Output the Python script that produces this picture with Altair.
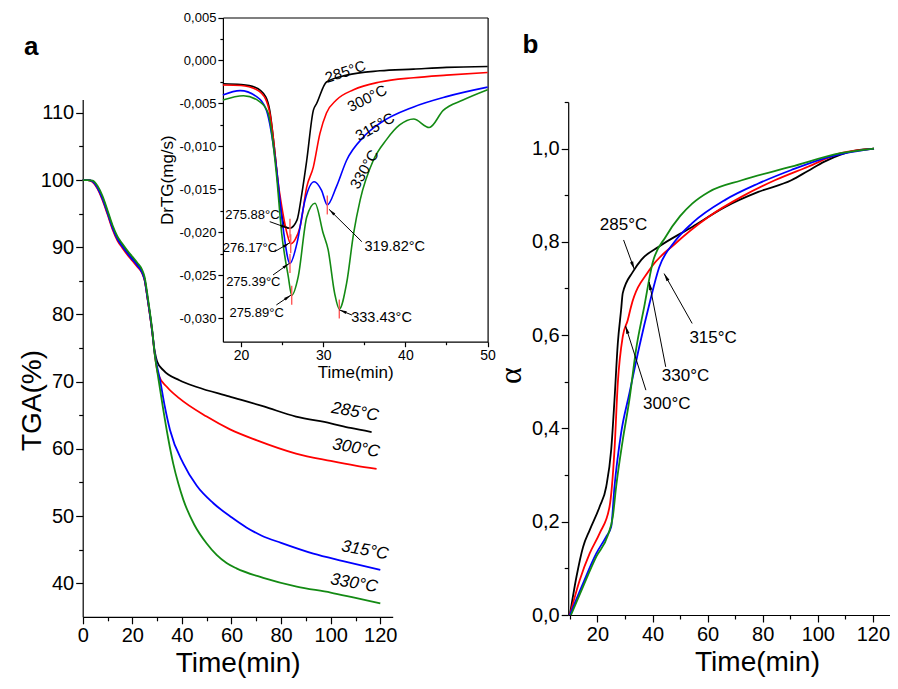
import math
import altair as alt
import pandas as pd

SERIES = ["285°C", "300°C", "315°C", "330°C"]
COLORS = ["#000000", "#ff0000", "#0000ff", "#138a13"]

# ---------------- panel a : TGA (%) vs time (min) ----------------
tga_t_285 = [0, 2, 4, 6, 8, 10, 12, 14, 16, 18, 20, 22, 24, 25, 26, 27, 28, 29, 30, 32.5, 39, 46, 59, 73, 86, 100, 108, 116.5]
tga_v_285 = [100, 100, 99.8, 98.9, 97.3, 95.2, 93.0, 91.3, 90.2, 89.2, 88.3, 87.4, 86.3, 85.2, 82.8, 80.3, 77.5, 74.6, 73.0, 71.7, 70.2, 69.2, 67.8, 66.3, 64.8, 63.8, 63.1, 62.5]
tga_t_300 = [0, 2, 4, 6, 8, 10, 12, 14, 16, 18, 20, 22, 24, 25, 26, 27, 28, 29, 30.5, 34, 39, 50, 59.4, 70, 86, 100, 110, 118.5]
tga_v_300 = [100, 100, 99.7, 98.7, 97.0, 94.9, 92.7, 91.0, 89.9, 88.9, 88.0, 87.1, 86.1, 85.0, 82.7, 80.2, 77.5, 74.2, 71.0, 69.2, 67.5, 64.8, 62.9, 61.3, 59.3, 58.2, 57.5, 57.0]
tga_t_315 = [0, 2, 4, 6, 8, 10, 12, 14, 16, 18, 20, 22, 24, 25, 26, 27, 28, 29, 31.2, 33, 35.2, 40.6, 46, 52.7, 60, 66, 72, 80, 93, 105, 120]
tga_v_315 = [100, 100, 99.8, 98.8, 97.2, 95.1, 92.9, 91.2, 90.1, 89.1, 88.2, 87.3, 86.2, 85.1, 82.8, 80.3, 77.6, 74.3, 70.2, 66.5, 62.8, 57.8, 54.5, 51.9, 49.8, 48.3, 47.1, 46.0, 44.4, 43.3, 42.0]
tga_t_330 = [0, 2, 4, 6, 8, 10, 12, 14, 16, 18, 20, 22, 24, 25, 26, 27, 28, 29, 30.5, 32.5, 34.5, 36.5, 38.5, 40.6, 45, 50, 54, 58, 62, 72.8, 86.3, 100, 110, 120]
tga_v_330 = [100, 100, 99.9, 99.1, 97.6, 95.5, 93.3, 91.6, 90.5, 89.5, 88.6, 87.7, 86.6, 85.5, 83.2, 80.6, 77.8, 74.2, 70.5, 65.8, 61.5, 57.8, 54.9, 52.4, 48.7, 45.9, 44.2, 43.0, 42.2, 40.8, 39.5, 38.6, 37.8, 37.0]

tga_lab_t = [109.8, 110.2, 113.8, 109.4]
tga_lab_v = [65.5, 60.1, 44.9, 40.0]

# ---------------- inset : DrTG (mg/s) vs time (min) ----------------
dtg_t_285 = [17.8, 20, 21.7, 23.0, 23.5, 24.1, 24.7, 25.35, 25.96, 26.8, 27.4, 28.0, 28.8, 29.2, 30.4, 32.85, 36.9, 41, 45, 50]
dtg_v_285 = [-0.0027, -0.0028, -0.0031, -0.0042, -0.0058, -0.0105, -0.0162, -0.0193, -0.0195, -0.0186, -0.0155, -0.0116, -0.0058, -0.0050, -0.0025, -0.0017, -0.0012, -0.0010, -0.0008, -0.0007]
dtg_t_300 = [17.8, 20, 21.9, 23.0, 23.5, 24.7, 25.6, 26.05, 26.6, 27.2, 28, 28.8, 29.6, 30.4, 31.6, 33.7, 36.9, 41, 45, 50]
dtg_v_300 = [-0.00285, -0.0029, -0.0034, -0.0045, -0.0061, -0.0154, -0.0201, -0.0213, -0.0208, -0.0193, -0.0147, -0.0124, -0.0085, -0.0061, -0.0046, -0.0034, -0.0025, -0.0020, -0.0017, -0.0014]
dtg_t_315 = [17.8, 19.9, 21.9, 23.1, 24.3, 25.1, 25.96, 26.8, 27.8, 28.9, 29.8, 30.5, 31.6, 32.85, 34.9, 36.9, 41, 45, 50]
dtg_v_315 = [-0.0040, -0.0035, -0.0042, -0.0058, -0.0124, -0.0193, -0.0236, -0.0213, -0.0162, -0.0141, -0.0151, -0.0168, -0.0147, -0.0116, -0.0089, -0.0073, -0.0054, -0.0042, -0.0031]
dtg_t_330 = [17.8, 20.3, 22.3, 23.3, 24.3, 24.95, 25.75, 26.17, 26.97, 28, 29, 30, 30.6, 31.4, 31.96, 32.85, 33.7, 34.5, 36.1, 37.7, 39.3, 41, 42.9, 44.6, 47, 50]
dtg_v_330 = [-0.0046, -0.0041, -0.0048, -0.0061, -0.0131, -0.0201, -0.0251, -0.0273, -0.0251, -0.0182, -0.0166, -0.0201, -0.0220, -0.0271, -0.0289, -0.0259, -0.0201, -0.0162, -0.0116, -0.0092, -0.0075, -0.0068, -0.0078, -0.0058, -0.0046, -0.0034]

dtg_lab_t = [32.7, 35.35, 36.3, 35.0]
dtg_lab_v = [-0.0013, -0.0044, -0.0077, -0.01265]
dtg_lab_ang = [342, 333, 331, 300]

peak_t = [25.96, 26.05, 25.96, 26.17, 30.5, 31.96]
peak_v = [-0.0195, -0.0213, -0.0236, -0.0273, -0.0168, -0.0289]
peak_half = 0.0011

peak_labels = ["275.88°C", "276.17°C", "275.39°C", "275.89°C", "319.82°C", "333.43°C"]
peak_lab_t = [21.4, 21.1, 21.5, 21.9, 38.7, 37.1]
peak_lab_v = [-0.01797, -0.02184, -0.02572, -0.0294, -0.02165, -0.02998]
peak_lab_size = [13, 13, 13, 13, 14.5, 14.5]
peak_arr_t1 = [23.5, 24.1, 23.9, 24.3, 34.7, 33.5]
peak_arr_v1 = [-0.01874, -0.02223, -0.02494, -0.02843, -0.02107, -0.0296]
peak_arr_t2 = [25.75, 25.96, 25.9, 26.1, 30.7, 31.96]
peak_arr_v2 = [-0.01951, -0.02118, -0.02358, -0.02727, -0.0173, -0.0290]

# ---------------- panel b : alpha vs time (min) ----------------
al_t_285 = [10, 12.4, 14.8, 17.2, 20.8, 23.2, 25, 26.2, 27.4, 28.6, 29.2, 32.8, 36, 42.4, 54.4, 66.4, 78.4, 90.4, 96.4, 102.4, 108.3, 114, 120.4]
al_a_285 = [0, 0.082, 0.146, 0.182, 0.232, 0.275, 0.354, 0.461, 0.582, 0.654, 0.69, 0.735, 0.762, 0.79, 0.832, 0.875, 0.907, 0.932, 0.952, 0.972, 0.987, 0.996, 1.0]
al_t_300 = [10, 13.6, 17.2, 20.8, 24.4, 26.2, 27.4, 29.2, 31, 32.2, 38.8, 48.4, 60.4, 72.4, 84.4, 96.4, 108.3, 120.4]
al_a_300 = [0, 0.075, 0.132, 0.175, 0.232, 0.354, 0.497, 0.597, 0.632, 0.661, 0.739, 0.797, 0.854, 0.897, 0.932, 0.961, 0.99, 1.0]
al_t_315 = [10, 14.8, 19.6, 23.2, 25, 26.2, 28.6, 31.6, 35.2, 38.8, 42.4, 48, 54.4, 66.4, 78.4, 90.4, 102.4, 110, 120.4]
al_a_315 = [0, 0.068, 0.132, 0.168, 0.189, 0.275, 0.39, 0.475, 0.575, 0.665, 0.745, 0.80, 0.84, 0.89, 0.925, 0.954, 0.979, 0.99, 1.0]
al_t_330 = [10.4, 14.8, 19.6, 23.8, 25.6, 26.8, 29.2, 31.6, 34, 37, 40, 44.8, 50, 54.4, 60.4, 72.4, 90.4, 108.3, 120.4]
al_a_330 = [0, 0.061, 0.125, 0.171, 0.211, 0.275, 0.375, 0.461, 0.568, 0.661, 0.754, 0.811, 0.855, 0.882, 0.907, 0.932, 0.961, 0.99, 1.0]

al_lab = ["285°C", "315°C", "330°C", "300°C"]
al_lab_t = [29.5, 62.0, 52.0, 45.2]
al_lab_a = [0.836, 0.593, 0.512, 0.452]
al_arr_t1 = [29.5, 54.4, 44.8, 37.6]
al_arr_a1 = [0.804, 0.625, 0.532, 0.482]
al_arr_t2 = [33.4, 44.2, 38.8, 30.2]
al_arr_a2 = [0.741, 0.732, 0.714, 0.62]

# tick values
L_XTICKS = list(range(0, 121, 10))
L_YTICKS = list(range(40, 111, 5))
I_XTICKS = list(range(20, 51, 5))
I_YTICKS = [round(-0.030 + 0.0025 * i, 4) for i in range(15)]
R_XTICKS = list(range(10, 121, 10))
R_YTICKS = [round(0.1 * i, 1) for i in range(12)]

# ---------------- layout (view pixels) ----------------
W, H = 882, 673
FONT = "Liberation Sans"
L_XD, L_XR = [0, 125], [74.7, 384.7]
L_YD, L_YR = [35, 112], [608.8, 91.4]
I_XD, I_XR = [17.8, 50], [214.9, 479.6]
I_YD, I_YR = [-0.0327, 0.005], [333.7, 9.5]
R_XD, R_XR = [9.4, 126.2], [560.2, 882]
R_YD, R_YR = [0, 1.1], [607, 93.9]


def long_df(ts, vs):
    rows = []
    for s, tt, vv in zip(SERIES, ts, vs):
        for a, b in zip(tt, vv):
            rows.append({"series": s, "t": a, "v": b})
    return pd.DataFrame(rows)


def X(field, dom, rng, axis=None):
    return alt.X(field, type="quantitative", scale=alt.Scale(domain=dom, range=rng, nice=False, zero=False), axis=axis)


def Y(field, dom, rng, axis=None):
    return alt.Y(field, type="quantitative", scale=alt.Scale(domain=dom, range=rng, nice=False, zero=False), axis=axis)


def lin(v, d, r):
    return r[0] + (v - d[0]) / (d[1] - d[0]) * (r[1] - r[0])


def inv(p, d, r):
    return d[0] + (p - r[0]) / (r[1] - r[0]) * (d[1] - d[0])


def arrows(t1s, v1s, t2s, v2s, xd, xr, yd, yr, back=4.0):
    rows = []
    for t1, v1, t2, v2 in zip(t1s, v1s, t2s, v2s):
        x1, y1 = lin(t1, xd, xr), lin(v1, yd, yr)
        x2, y2 = lin(t2, xd, xr), lin(v2, yd, yr)
        dx, dy = x2 - x1, y2 - y1
        L = math.hypot(dx, dy)
        ang = math.degrees(math.atan2(dx, -dy)) % 360
        hx, hy = x2 - dx / L * back, y2 - dy / L * back
        rows.append({"t1": t1, "v1": v1, "t2": t2, "v2": v2,
                     "ht": inv(hx, xd, xr), "hv": inv(hy, yd, yr), "ang": ang})
    return pd.DataFrame(rows)


color = alt.Color("series:N", scale=alt.Scale(domain=SERIES, range=COLORS), legend=None)
HEAD = "M0,-1L0.42,1L-0.42,1Z"


def axis(orient, offset, values, test, labexpr, title, lsize, tsize, major, minor, **kw):
    return alt.Axis(orient=orient, offset=offset, values=values, labelExpr=labexpr,
                    tickSize={"condition": {"test": test, "value": major}, "value": minor},
                    title=title, labelFontSize=lsize, titleFontSize=tsize, grid=False,
                    labelFlush=False, labelOverlap=False, **kw)


# ---------- panel a ----------
tga = long_df([tga_t_285, tga_t_300, tga_t_315, tga_t_330], [tga_v_285, tga_v_300, tga_v_315, tga_v_330])
ax_lx = axis("bottom", L_YR[0] - H, L_XTICKS, "datum.value % 20 === 0", "datum.value % 20 === 0 ? datum.label : ''",
             "Time(min)", 20, 28, 7, 4)
ax_ly = axis("left", -L_XR[0], L_YTICKS, "datum.value % 10 === 0", "datum.value % 10 === 0 ? datum.label : ''",
             "TGA(%)", 20, 28, 7, 4, titleY=392, titleX=-36)
l_lines = alt.Chart(tga).mark_line(strokeWidth=1.8, interpolate="monotone").encode(
    x=X("t", L_XD, L_XR, ax_lx), y=Y("v", L_YD, L_YR, ax_ly), color=color, detail="series:N")
l_lab = alt.Chart(pd.DataFrame({"t": tga_lab_t, "v": tga_lab_v, "label": SERIES})).mark_text(
    font=FONT, fontSize=17, fontStyle="italic", angle=10, color="black").encode(
    x=X("t", L_XD, L_XR), y=Y("v", L_YD, L_YR), text="label:N")
l_letter = alt.Chart(pd.DataFrame({"t": [-20.8], "v": [119.8], "label": ["a"]})).mark_text(
    font=FONT, fontSize=26, fontWeight="bold", color="black").encode(
    x=X("t", L_XD, L_XR), y=Y("v", L_YD, L_YR), text="label:N")

# ---------- inset ----------
dtg = long_df([dtg_t_285, dtg_t_300, dtg_t_315, dtg_t_330], [dtg_v_285, dtg_v_300, dtg_v_315, dtg_v_330])
ax_ix = axis("bottom", I_YR[0] - H, I_XTICKS, "datum.value % 10 === 0", "datum.value % 10 === 0 ? datum.label : ''",
             "Time(min)", 14, 17, 5, 3, titlePadding=2)
ax_iy = axis("left", -I_XR[0], I_YTICKS, "round(datum.value*10000) % 50 === 0",
             "round(datum.value*10000) % 50 === 0 ? replace(replace(format(datum.value, '.3f'), '.', ','), '\u2212', '-') : ''",
             "DrTG(mg/s)", 13, 17, 5, 3, titlePadding=3)
i_lines = alt.Chart(dtg).mark_line(strokeWidth=1.6, interpolate="monotone").encode(
    x=X("t", I_XD, I_XR, ax_ix), y=Y("v", I_YD, I_YR, ax_iy), color=color, detail="series:N")
pk = pd.DataFrame({"t": peak_t, "lo": [v - peak_half for v in peak_v], "hi": [v + peak_half for v in peak_v]})
frame_x = alt.Axis(orient="top", offset=-I_YR[1], labels=False, ticks=False, title=None, grid=False)
frame_y = alt.Axis(orient="right", offset=I_XR[1] - W, labels=False, ticks=False, title=None, grid=False)
i_peaks = alt.Chart(pk).mark_rule(color="#ff5a5a", strokeWidth=1.4).encode(
    x=X("t", I_XD, I_XR, frame_x), y=Y("lo", I_YD, I_YR, frame_y), y2="hi")
i_lab = alt.Chart(pd.DataFrame({"t": dtg_lab_t, "v": dtg_lab_v, "label": SERIES, "ang": dtg_lab_ang})).mark_text(
    font=FONT, fontSize=15, color="black").encode(
    x=X("t", I_XD, I_XR), y=Y("v", I_YD, I_YR), text="label:N", angle=alt.Angle("ang:Q", scale=None))
i_plab = alt.Chart(pd.DataFrame({"t": peak_lab_t, "v": peak_lab_v, "label": peak_labels, "fs": peak_lab_size})).mark_text(
    font=FONT, color="black").encode(
    x=X("t", I_XD, I_XR), y=Y("v", I_YD, I_YR), text="label:N", size=alt.Size("fs:Q", scale=None))
i_arr_df = arrows(peak_arr_t1, peak_arr_v1, peak_arr_t2, peak_arr_v2, I_XD, I_XR, I_YD, I_YR)
i_arr = alt.Chart(i_arr_df).mark_rule(color="black", strokeWidth=1).encode(
    x=X("t1", I_XD, I_XR), y=Y("v1", I_YD, I_YR), x2="t2", y2="v2")
i_head = alt.Chart(i_arr_df).mark_point(shape=HEAD, filled=True, size=49, color="black", opacity=1).encode(
    x=X("ht", I_XD, I_XR), y=Y("hv", I_YD, I_YR), angle=alt.Angle("ang:Q", scale=None))

# ---------- panel b ----------
al = long_df([al_t_285, al_t_300, al_t_315, al_t_330], [al_a_285, al_a_300, al_a_315, al_a_330])
ax_rx = axis("bottom", R_YR[0] - H, R_XTICKS, "datum.value % 20 === 0", "datum.value % 20 === 0 ? datum.label : ''",
             "Time(min)", 20, 28, 7, 4, titleX=749)
ax_ry = axis("left", -R_XR[0], R_YTICKS, "round(datum.value*10) % 2 === 0",
             "round(datum.value*10) % 2 === 0 ? replace(format(datum.value, '.1f'), '.', ',') : ''",
             "\u03b1", 20, 32, 7, 4, titleFont="Liberation Serif", titleY=367)
r_lines = alt.Chart(al).mark_line(strokeWidth=1.8, interpolate="monotone").encode(
    x=X("t", R_XD, R_XR, ax_rx), y=Y("v", R_YD, R_YR, ax_ry), color=color, detail="series:N")
r_lab = alt.Chart(pd.DataFrame({"t": al_lab_t, "v": al_lab_a, "label": al_lab})).mark_text(
    font=FONT, fontSize=17, color="black").encode(
    x=X("t", R_XD, R_XR), y=Y("v", R_YD, R_YR), text="label:N")
r_arr_df = arrows(al_arr_t1, al_arr_a1, al_arr_t2, al_arr_a2, R_XD, R_XR, R_YD, R_YR)
r_arr = alt.Chart(r_arr_df).mark_rule(color="black", strokeWidth=1).encode(
    x=X("t1", R_XD, R_XR), y=Y("v1", R_YD, R_YR), x2="t2", y2="v2")
r_head = alt.Chart(r_arr_df).mark_point(shape=HEAD, filled=True, size=64, color="black", opacity=1).encode(
    x=X("ht", R_XD, R_XR), y=Y("hv", R_YD, R_YR), angle=alt.Angle("ang:Q", scale=None))
r_letter = alt.Chart(pd.DataFrame({"t": [-4.35], "v": [1.222], "label": ["b"]})).mark_text(
    font=FONT, fontSize=26, fontWeight="bold", color="black").encode(
    x=X("t", R_XD, R_XR), y=Y("v", R_YD, R_YR), text="label:N")

chart = alt.layer(
    l_lines, l_lab, l_letter,
    i_lines, i_peaks, i_lab, i_plab, i_arr, i_head,
    r_lines, r_lab, r_arr, r_head, r_letter,
).resolve_scale(x="independent", y="independent").properties(
    width=W, height=H, autosize=alt.AutoSizeParams(type="none"), padding=0,
).configure_view(stroke=None).configure_axis(
    domainColor="black", tickColor="black", labelColor="black", titleColor="black",
    labelFont=FONT, titleFont=FONT, titleFontWeight="normal", domainWidth=1.2, tickWidth=1.2,
)

chart.save("out.html", embed_options={"renderer": "svg", "actions": False})
